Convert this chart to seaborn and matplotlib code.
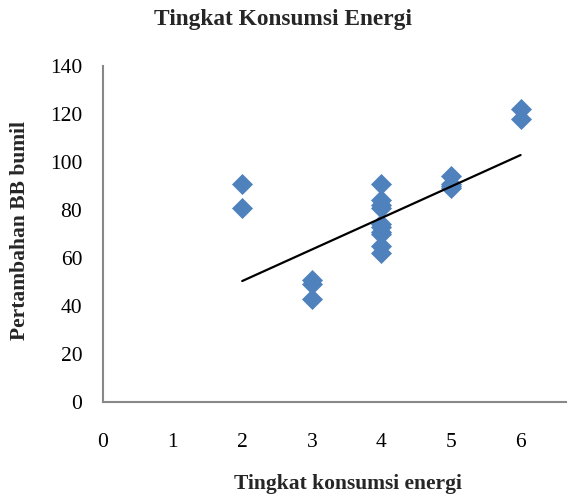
import numpy as np
import pandas as pd
import matplotlib
matplotlib.use("Agg")
import matplotlib.pyplot as plt
import seaborn as sns

sns.set_theme(style="white")
plt.rcParams['font.family'] = ['Liberation Serif', 'DejaVu Serif']

konsumsi = [2, 2,
            3, 3, 3,
            4, 4, 4, 4, 4, 4, 4, 4, 4, 4,
            5, 5, 5, 5,
            6, 6]
pertambahan = [91, 81,
               51, 49, 43,
               91, 84, 82, 81, 74, 73, 71, 70, 65, 62,
               94, 91, 90, 89,
               122, 118]
# linear trendline as shown in the chart (Excel trendline)
trend_x = [2, 6]
trend_y = [50.4, 102.9]
x_ticks = [0, 1, 2, 3, 4, 5, 6]
y_ticks = [0, 20, 40, 60, 80, 100, 120, 140]

df = pd.DataFrame({"x": konsumsi, "y": pertambahan})

fig = plt.figure(figsize=(5.69, 4.95), dpi=100)
ax = fig.add_axes([103/569, 93/495, 463/569, 336/495])

sns.scatterplot(data=df, x="x", y="y", marker="D", s=115, color="#4F81BD",
                edgecolor="#4F81BD", linewidth=0, ax=ax, zorder=3)
sns.lineplot(x=trend_x, y=trend_y, color="black", linewidth=1.6, ax=ax, zorder=4)

ax.set_xlim(0, 463/69.6)
ax.set_ylim(0, 140)
ax.set_xticks(x_ticks)
ax.set_yticks(y_ticks)
ax.tick_params(axis="both", labelsize=15.5, colors="black", direction="out",
               length=5, width=1, color="#888888")
ax.tick_params(axis="y", pad=10)
ax.tick_params(axis="x", pad=17)
for s in ["top", "right"]:
    ax.spines[s].set_visible(False)
for s in ["left", "bottom"]:
    ax.spines[s].set_color("#888888")
    ax.spines[s].set_linewidth(1.5)

ax.set_xlabel("Tingkat konsumsi energi", fontsize=15.5, fontweight="bold")
ax.set_ylabel("Pertambahan BB bumil", fontsize=15.5, fontweight="bold")
ax.xaxis.set_label_coords((348-103)/463, -(474-402)/336)
ax.yaxis.set_label_coords(-(103-30)/463, 0.5 - (231-234)/336)
fig.text(283/569, 1 - 19/495, "Tingkat Konsumsi Energi", ha="center", va="center",
         fontsize=16.8, fontweight="bold")

fig.savefig("out.png", dpi=100)
